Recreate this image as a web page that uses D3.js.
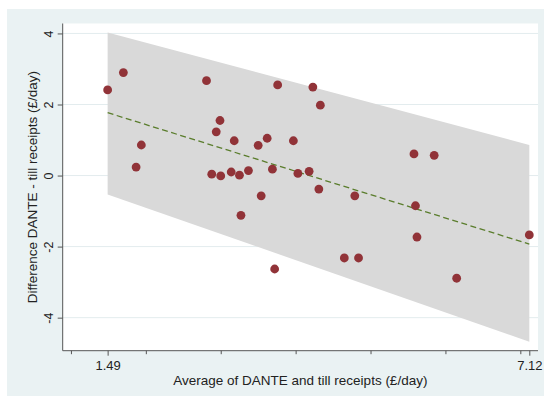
<!DOCTYPE html>
<html>
<head>
<meta charset="utf-8">
<script src="https://cdn.jsdelivr.net/npm/d3@7"></script>
<style>
  html, body { margin: 0; padding: 0; background: #ffffff; }
  svg { display: block; }
</style>
</head>
<body>
<svg id="chart" width="544" height="396"></svg>
<script>
// Bland–Altman style plot: average vs. difference of DANTE and till receipts
const avgValues = [1.49, 1.70, 1.87, 1.94, 2.81, 2.88, 2.94, 2.99, 3.00, 3.14,
                   3.18, 3.25, 3.27, 3.37, 3.50, 3.54, 3.62, 3.69, 3.72, 3.76,
                   3.97, 4.03, 4.18, 4.23, 4.31, 4.33, 4.65, 4.79, 4.84, 5.58,
                   5.60, 5.62, 5.85, 6.15, 7.12];
const diffValues = [2.41, 2.90, 0.24, 0.86, 2.67, 0.04, 1.23, 1.55, -0.01, 0.10,
                    0.98, 0.01, -1.12, 0.14, 0.85, -0.57, 1.05, 0.18, -2.63, 2.55,
                    0.98, 0.06, 0.12, 2.49, -0.38, 1.98, -2.32, -0.57, -2.32, 0.61,
                    -0.85, -1.73, 0.57, -2.89, -1.67];

// Regression of difference on average, with its limits of agreement
const fitX = [1.49, 7.12];
const fitY = [1.77, -1.93];
const upperLimit = [4.03, 0.86];
const lowerLimit = [-0.53, -4.68];

const yTicks = [-4, -2, 0, 2, 4];
const xMinorTicks = [1, 2, 3, 4, 5, 6, 7];
const xLabelTicks = [1.49, 7.12];

const FONT = "'Liberation Sans', Arial, Helvetica, sans-serif";
const svg = d3.select("#chart");

// outer graph region
svg.append("rect").attr("x", 7).attr("y", 9).attr("width", 537).attr("height", 387)
  .attr("fill", "#eaf2f3");

const plot = { left: 62.7, right: 538, top: 23.5, bottom: 350.7 };
svg.append("rect").attr("x", plot.left).attr("y", plot.top)
  .attr("width", plot.right - plot.left).attr("height", plot.bottom - plot.top)
  .attr("fill", "#ffffff");

const x = d3.scaleLinear().domain([0.89, 7.236]).range([plot.left, plot.right]);
const y = d3.scaleLinear().domain([-4.93, 4.28]).range([plot.bottom, plot.top]);

// horizontal grid lines
svg.append("g").selectAll("line").data(yTicks).join("line")
  .attr("x1", plot.left).attr("x2", plot.right)
  .attr("y1", d => y(d)).attr("y2", d => y(d))
  .attr("stroke", "#e3ecee").attr("stroke-width", 1);

// shaded band between the limits
const band = fitX.map((v, i) => [v, upperLimit[i]])
  .concat(fitX.map((v, i) => [v, lowerLimit[i]]).reverse());
svg.append("path")
  .attr("d", d3.line().x(d => x(d[0])).y(d => y(d[1]))(band) + "Z")
  .attr("fill", "#d9d9d9");

// fitted line
svg.append("path")
  .attr("d", d3.line().x(d => x(d[0])).y(d => y(d[1]))(fitX.map((v, i) => [v, fitY[i]])))
  .attr("fill", "none").attr("stroke", "#5a7d2c").attr("stroke-width", 1.3)
  .attr("stroke-dasharray", "6,3.5");

// observations
svg.append("g").selectAll("circle").data(avgValues).join("circle")
  .attr("cx", d => x(d)).attr("cy", (d, i) => y(diffValues[i]))
  .attr("r", 4.4).attr("fill", "#913338");

// y axis (labels rotated, plain hyphen for negatives)
const yAxis = svg.append("g").attr("transform", `translate(${plot.left},0)`)
  .call(d3.axisLeft(y).tickValues(yTicks).tickSize(5).tickFormat(d => String(d)));
yAxis.select(".domain").attr("d", `M0,${plot.bottom}V${plot.top}`).attr("stroke", "#555");
yAxis.selectAll(".tick line").attr("stroke", "#555");
yAxis.selectAll(".tick text")
  .attr("transform", "rotate(-90)").attr("x", 0).attr("y", -9.5).attr("dy", "0")
  .attr("text-anchor", "middle").attr("fill", "#222")
  .style("font-family", FONT).style("font-size", "12.5px");

// x axis: unlabeled integer ticks plus labeled range ends
const xAxisG = svg.append("g").attr("transform", `translate(0,${plot.bottom})`);
xAxisG.append("line").attr("x1", plot.left).attr("x2", plot.right)
  .attr("y1", 0).attr("y2", 0).attr("stroke", "#555");
xAxisG.append("g").call(d3.axisBottom(x).tickValues(xMinorTicks).tickSize(3.5).tickFormat(""))
  .call(g => g.select(".domain").remove())
  .call(g => g.selectAll(".tick line").attr("stroke", "#555"));
xAxisG.append("g").call(d3.axisBottom(x).tickValues(xLabelTicks).tickSize(5).tickPadding(5)
    .tickFormat(d3.format(".2f")))
  .call(g => g.select(".domain").remove())
  .call(g => g.selectAll(".tick line").attr("stroke", "#555"))
  .call(g => g.selectAll(".tick text").attr("fill", "#222")
    .style("font-family", FONT).style("font-size", "13px"));

// axis titles
svg.append("text").attr("x", (plot.left + plot.right) / 2).attr("y", 385)
  .attr("text-anchor", "middle").attr("fill", "#222")
  .style("font-family", FONT).style("font-size", "13.5px")
  .text("Average of DANTE and till receipts (£/day)");
svg.append("text")
  .attr("transform", `translate(37,${(plot.top + plot.bottom) / 2}) rotate(-90)`)
  .attr("text-anchor", "middle").attr("fill", "#222")
  .style("font-family", FONT).style("font-size", "13.5px")
  .text("Difference DANTE - till receipts (£/day)");
</script>
</body>
</html>
